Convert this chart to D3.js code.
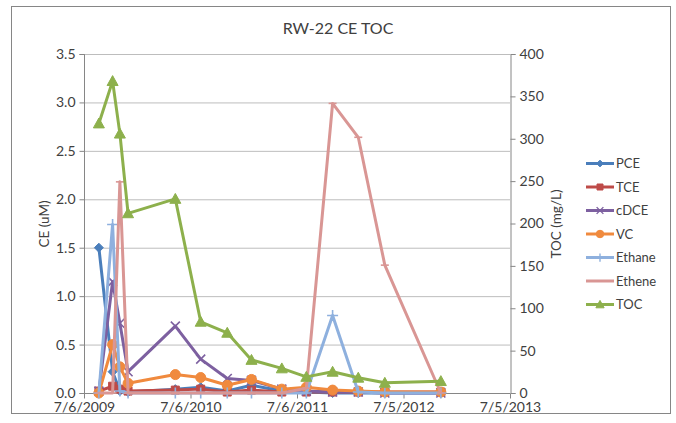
<!DOCTYPE html>
<html><head><meta charset="utf-8">
<script src="https://cdn.jsdelivr.net/npm/d3@7"></script>
<style>body{margin:0;background:#fff} svg{display:block} text{font-family:Lato,"Open Sans",sans-serif;fill:#404040}</style>
</head><body><svg id="c" width="676" height="423"></svg>
<script>
// ---- data ----
const dates = ["2009-08-26","2009-10-12","2009-11-06","2009-12-04","2010-05-15","2010-08-10","2010-11-09","2011-01-31","2011-05-15","2011-08-07","2011-11-05","2012-02-01","2012-05-02","2012-11-10"];
const pce    = [1.50,0.22,0.02,0.01,0.04,0.06,0.02,0.08,0.02,0.01,0.00,0.00,0.00,0.00];
const tce    = [0.02,0.07,0.04,0.02,0.03,0.04,0.01,0.03,0.01,0.01,0.01,0.01,0.01,0.01];
const cdce   = [0.02,1.15,0.72,0.22,0.69,0.35,0.15,0.13,0.04,0.02,0.01,0.01,0.00,0.00];
const vc     = [0.00,0.50,0.27,0.10,0.19,0.16,0.08,0.14,0.04,0.06,0.03,0.02,0.01,0.01];
const ethane = [0.00,1.74,0.02,0.00,0.00,0.00,0.00,0.00,0.00,0.00,0.80,0.01,0.00,0.00];
const ethene = [0.00,0.00,2.18,0.00,0.00,0.00,0.00,0.00,0.00,0.05,2.99,2.64,1.32,0.00];
const toc    = [318,368,306,212,229,84,71,39,29,19,25,18,12,14];
const seriesNames = ["PCE","TCE","cDCE","VC","Ethane","Ethene","TOC"];
const seriesColors = ["#4A7EBB","#BE4B48","#7D60A0","#F08A3E","#8EB0DE","#D99694","#8DB04C"];
const markerTypes = ["diamond","square","x","circle","plus","dash","triangle"];
const xTickDates = ["2009-07-06","2010-07-06","2011-07-06","2012-07-05","2013-07-05"];
const yLeftTicks = [0,0.5,1.0,1.5,2.0,2.5,3.0,3.5];
const yRightTicks = [0,50,100,150,200,250,300,350,400];
const titleText = "RW-22 CE TOC";
const yLeftTitle = "CE (uM)";
const yRightTitle = "TOC (mg/L)";

// ---- build ----
const parse = d3.utcParse("%Y-%m-%d");
const fmt = d3.utcFormat("%-m/%-d/%Y");
const seriesVals = [pce,tce,cdce,vc,ethane,ethene,toc];
const svg = d3.select("#c");
svg.append("rect").attr("x",0).attr("y",0).attr("width",676).attr("height",423).attr("fill","#fff");
svg.append("rect").attr("x",11.5).attr("y",6.5).attr("width",659).attr("height",407).attr("fill","none").attr("stroke","#868686");

const L=84, R=510, T=54, B=393;
const x = d3.scaleUtc().domain([parse(xTickDates[0]), parse(xTickDates[xTickDates.length-1])]).range([L,R]);
const yL = d3.scaleLinear().domain([0,3.5]).range([B,T]);
const yR = d3.scaleLinear().domain([0,400]).range([B,T]);

// gridlines
svg.append("g").selectAll("line").data(yLeftTicks.slice(1)).join("line")
  .attr("x1",L).attr("x2",R).attr("y1",d=>yL(d)+0.5).attr("y2",d=>yL(d)+0.5)
  .attr("stroke","#BDBDBD").attr("stroke-width",1);

// axes
const axL = d3.axisLeft(yL).tickValues(yLeftTicks).tickFormat(d3.format(".1f")).tickSize(5).tickPadding(4);
const axR = d3.axisRight(yR).tickValues(yRightTicks).tickFormat(d3.format("d")).tickSize(5).tickPadding(4);
const axB = d3.axisBottom(x).tickValues(xTickDates.map(parse)).tickFormat(fmt).tickSize(5).tickPadding(4);
function styleAxis(g){
  g.select(".domain").attr("stroke","#868686");
  g.selectAll(".tick line").attr("stroke","#868686");
  g.selectAll(".tick text").attr("font-size",14).attr("fill","#404040").attr("font-family",'Lato,"Open Sans",sans-serif');
}
svg.append("g").attr("transform",`translate(${L+0.5},0)`).call(axL).call(styleAxis).call(g=>g.select(".domain").attr("d",`M-5,${T+0.5}H0V${B+0.5}H-5`));
svg.append("g").attr("transform",`translate(${R+0.5},0)`).call(axR).call(styleAxis);
svg.append("g").attr("transform",`translate(0,${B+0.5})`).call(axB).call(styleAxis).call(g=>g.select(".domain").attr("d",`M${L},0H${R}`));

// series
function markerPath(type, s){
  const h=s/2;
  switch(type){
    case "diamond": return `M0,${-h}L${h},0L0,${h}L${-h},0Z`;
    case "square": return `M${-h},${-h}H${h}V${h}H${-h}Z`;
    case "x": return `M${-h},${-h}L${h},${h}M${-h},${h}L${h},${-h}`;
    case "circle": return d3.symbol(d3.symbolCircle, Math.PI*h*h)();
    case "plus": return `M${-h},0H${h}M0,${-h}V${h}`;
    case "dash": return `M${-h},0H${h}`;
    case "triangle": return `M0,${-h}L${h},${h*0.8}L${-h},${h*0.8}Z`;
  }
}
const markerSizes = [9,8,9,10,11,8,11];
const gS = svg.append("g");
seriesVals.forEach((vals,i)=>{
  const ys = i===6 ? yR : yL;
  const pts = dates.map((d,j)=>[x(parse(d)), ys(vals[j])]);
  gS.append("path").attr("d", d3.line()(pts)).attr("fill","none")
    .attr("stroke",seriesColors[i]).attr("stroke-width",3).attr("stroke-linejoin","round");
  const t = markerTypes[i];
  const stroked = (t==="x"||t==="plus"||t==="dash");
  gS.append("g").selectAll("path").data(pts).join("path")
    .attr("transform",p=>`translate(${p[0]},${p[1]})`)
    .attr("d",markerPath(t,markerSizes[i]))
    .attr("fill",stroked?"none":seriesColors[i])
    .attr("stroke",seriesColors[i]).attr("stroke-width",stroked?1.6:1);
});

// title
svg.append("text").attr("x",338).attr("y",34).attr("text-anchor","middle").attr("font-size",16).text(titleText);
svg.append("text").attr("transform","translate(49,224) rotate(-90)").attr("text-anchor","middle").attr("font-size",13.5).text(yLeftTitle);
svg.append("text").attr("transform","translate(561,224) rotate(-90)").attr("text-anchor","middle").attr("font-size",13.5).text(yRightTitle);

// legend
const lg = svg.append("g");
seriesNames.forEach((n,i)=>{
  const yy = 163.5 + i*23.5;
  lg.append("line").attr("x1",586).attr("x2",614).attr("y1",yy).attr("y2",yy).attr("stroke",seriesColors[i]).attr("stroke-width",3);
  const t = markerTypes[i];
  const stroked = (t==="x"||t==="plus"||t==="dash");
  lg.append("path").attr("transform",`translate(600,${yy})`).attr("d",markerPath(t,markerSizes[i]*0.75))
    .attr("fill",stroked?"none":seriesColors[i]).attr("stroke",seriesColors[i]).attr("stroke-width",stroked?1.4:1);
  lg.append("text").attr("x",616).attr("y",yy+4.5).attr("font-size",13).text(n);
});
</script></body></html>
